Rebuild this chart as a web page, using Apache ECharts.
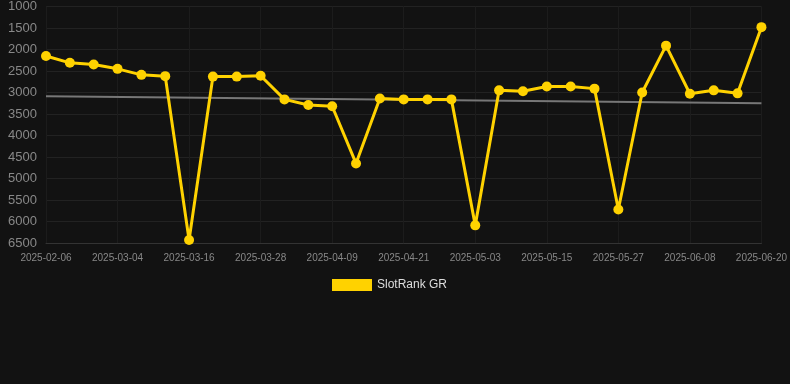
<!DOCTYPE html>
<html><head><meta charset="utf-8">
<script src="https://cdn.jsdelivr.net/npm/echarts@6/dist/echarts.min.js"></script>
<style>html,body{margin:0;padding:0;background:#121212;}#c{width:790px;height:384px;}</style>
</head><body><div id="c"></div>
<script>
const categories = ["2025-02-06","2025-02-20","2025-02-28","2025-03-04","2025-03-08","2025-03-12","2025-03-16","2025-03-20","2025-03-24","2025-03-28","2025-04-01","2025-04-05","2025-04-09","2025-04-13","2025-04-17","2025-04-21","2025-04-25","2025-04-29","2025-05-03","2025-05-07","2025-05-11","2025-05-15","2025-05-19","2025-05-23","2025-05-27","2025-05-31","2025-06-04","2025-06-08","2025-06-12","2025-06-16","2025-06-20"];
const rankValues = [2150,2310,2350,2450,2590,2620,6430,2630,2630,2610,3160,3290,3320,4650,3140,3160,3160,3160,6090,2950,2970,2860,2860,2910,5720,3000,1910,3030,2950,3020,1480];
const trendValues = [3090,3250];
const seriesName = "SlotRank GR";

const chart = echarts.init(document.getElementById('c'));
chart.setOption({
  backgroundColor: '#121212',
  animation: false,
  grid: {left: 46, right: 28, top: 6, bottom: 141},
  legend: {
    data: [seriesName], bottom: 88, left: 327,
    itemWidth: 40, itemHeight: 12, icon: 'rect',
    textStyle: {color: '#dddddd', fontSize: 12, fontFamily: 'Liberation Sans, Arial, sans-serif'}
  },
  xAxis: {
    type: 'category', data: categories, boundaryGap: false,
    axisLine: {lineStyle: {color: '#333333'}},
    axisTick: {show: false},
    axisLabel: {interval: 2, color: '#888888', fontSize: 10, margin: 10, fontFamily: 'Liberation Sans, Arial, sans-serif'},
    splitLine: {show: true, interval: 2, lineStyle: {color: '#1c1c1c'}}
  },
  yAxis: {
    type: 'value', inverse: true, min: 1000, max: 6500, interval: 500,
    axisLine: {show: false}, axisTick: {show: false},
    axisLabel: {color: '#888888', fontSize: 13, margin: 9, formatter: v => String(v), fontFamily: 'Liberation Sans, Arial, sans-serif'},
    splitLine: {lineStyle: {color: '#222222'}}
  },
  series: [
    {
      name: seriesName, type: 'line', data: rankValues,
      symbol: 'circle', symbolSize: 10,
      lineStyle: {color: '#FFD200', width: 3},
      itemStyle: {color: '#FFD200'},
      z: 3
    },
    {
      name: 'trend', type: 'line',
      data: [[categories[0], trendValues[0]], [categories[categories.length-1], trendValues[1]]],
      symbol: 'none',
      lineStyle: {color: '#777777', width: 2},
      z: 2
    }
  ]
});
</script></body></html>
